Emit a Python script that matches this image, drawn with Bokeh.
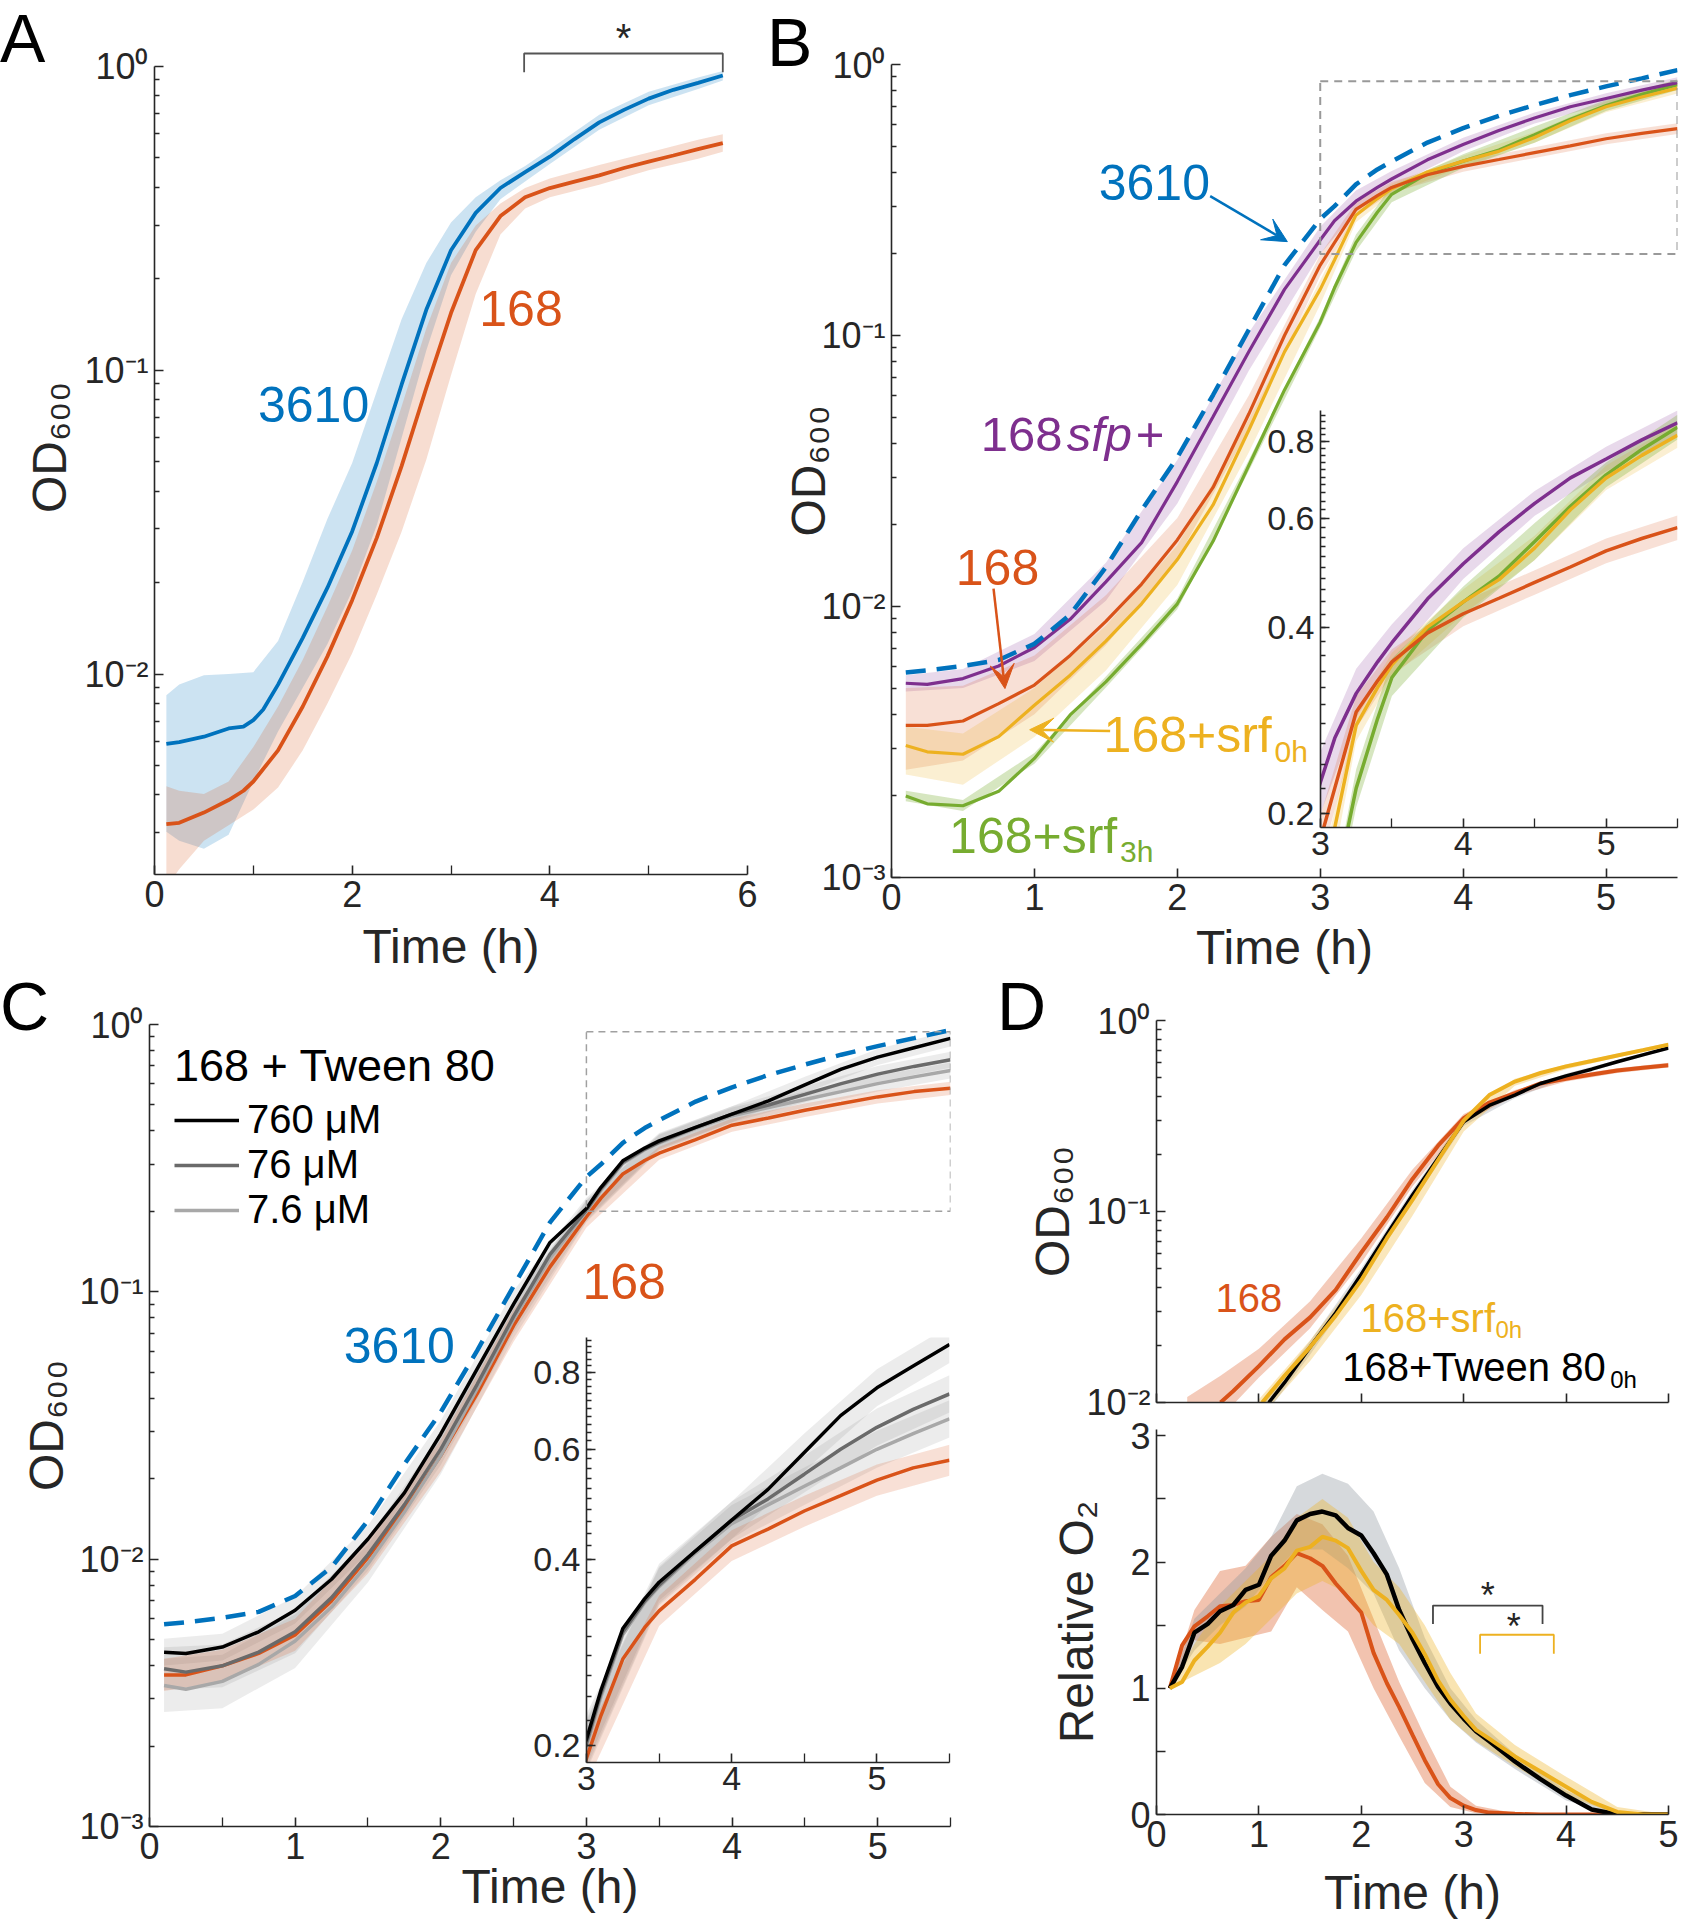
import numpy as np
from bokeh.plotting import figure
from bokeh.models import (GridBox, Div, Label, Arrow, VeeHead, FixedTicker,
                          CustomJSTickFormatter, Legend, LegendItem, Range1d)
from bokeh.embed import file_html
from bokeh.resources import INLINE

FONT = "Liberation Sans"
BLUE = "#0072BD"; RED = "#D95319"; YEL = "#EDB120"; PUR = "#7E2F8E"; GRN = "#77AC30"
DGRY = "#6a6a6a"; LGRY = "#a8a8a8"; AXC = "#262626"

# ---------------- data: panel A ----------------
tA = [0.12, 0.25, 0.5, 0.75, 0.9, 1.0, 1.1, 1.25, 1.5, 1.75, 2.0, 2.25, 2.5, 2.75, 3.0,
      3.25, 3.5, 3.75, 4.0, 4.25, 4.5, 4.75, 5.0, 5.25, 5.5, 5.75]
a_3610 = [0.00589, 0.00597, 0.00622, 0.00662, 0.00671, 0.00705, 0.00764, 0.00923, 0.01315,
          0.01923, 0.02944, 0.04955, 0.0895, 0.1578, 0.2477, 0.3289, 0.3972, 0.4477, 0.5035,
          0.5754, 0.6531, 0.7178, 0.7816, 0.8356, 0.8810, 0.9311]
a_168 = [0.00321, 0.00324, 0.00350, 0.00385, 0.00413, 0.00443, 0.00487, 0.00561, 0.00782,
         0.01143, 0.0175, 0.0281, 0.0483, 0.0873, 0.154, 0.248, 0.321, 0.370, 0.397, 0.417,
         0.437, 0.462, 0.485, 0.508, 0.533, 0.558]
tAb = [0.12, 0.25, 0.5, 0.75, 1.0, 1.25, 1.5, 1.75, 2.0, 2.25, 2.5, 2.75, 3.0, 3.25, 3.5,
       3.75, 4.0, 4.5, 5.0, 5.5, 5.75]
a_3610_hi = [0.00851, 0.00923, 0.00991, 0.0100, 0.01014, 0.01285, 0.0201, 0.0324, 0.0495, 0.0853,
             0.147, 0.225, 0.306, 0.370, 0.421, 0.469, 0.533, 0.692, 0.824, 0.918, 0.964]
a_3610_lo = [0.00303, 0.00283, 0.00266, 0.00296, 0.00443, 0.00647, 0.00901, 0.01256, 0.01876, 0.0309,
             0.0598, 0.116, 0.205, 0.285, 0.365, 0.417, 0.476, 0.617, 0.743, 0.840, 0.897]
a_168_hi = [0.00427, 0.00413, 0.00403, 0.00443, 0.00575, 0.00782, 0.01115, 0.01667, 0.0255, 0.0430,
            0.0759, 0.137, 0.225, 0.299, 0.353, 0.397, 0.427, 0.473, 0.520, 0.572, 0.597]
a_168_lo = [0.00198, 0.00228, 0.00283, 0.00318, 0.00358, 0.00423, 0.00561, 0.0080, 0.0117, 0.0183,
            0.0294, 0.0507, 0.0961, 0.178, 0.279, 0.340, 0.370, 0.407, 0.454, 0.496, 0.523]
sig_a = [3.74, 5.75]

# ---------------- data: panel B ----------------
tB = [0.1, 0.25, 0.5, 0.75, 1.0, 1.25, 1.5, 1.75, 2.0, 2.25, 2.5, 2.75, 3.0, 3.1, 3.25, 3.4,
      3.5, 3.75, 4.0, 4.25, 4.5, 4.75, 5.0, 5.25, 5.5]
od_3610 = [0.00571, 0.00581, 0.00603, 0.00635, 0.00728, 0.00933, 0.01396, 0.02265, 0.0355, 0.0603,
           0.105, 0.182, 0.269, 0.300, 0.361, 0.410, 0.439, 0.515, 0.582, 0.647, 0.708, 0.771,
           0.830, 0.889, 0.953]
b_sfp = [0.00521, 0.00516, 0.00542, 0.00603, 0.00706, 0.00897, 0.01233, 0.0172, 0.0289, 0.0501,
         0.0871, 0.148, 0.225, 0.265, 0.313, 0.352, 0.378, 0.445, 0.507, 0.571, 0.635, 0.698,
         0.749, 0.804, 0.857]
b_168 = [0.00364, 0.00364, 0.00378, 0.00438, 0.00513, 0.0066, 0.00881, 0.0121, 0.0176, 0.0275,
         0.0513, 0.100, 0.182, 0.220, 0.292, 0.328, 0.352, 0.392, 0.421, 0.446, 0.473, 0.501,
         0.532, 0.557, 0.580]
b_srf0 = [0.00307, 0.00291, 0.00285, 0.00331, 0.00432, 0.00558, 0.00745, 0.01023, 0.0149, 0.0237,
          0.0447, 0.087, 0.148, 0.190, 0.278, 0.320, 0.348, 0.401, 0.440, 0.478, 0.538, 0.620,
          0.698, 0.759, 0.818]
b_srf3 = [0.00200, 0.00187, 0.00184, 0.00208, 0.00275, 0.00398, 0.00527, 0.00726, 0.01023, 0.0174,
          0.0331, 0.063, 0.112, 0.150, 0.220, 0.285, 0.332, 0.396, 0.440, 0.484, 0.551, 0.628,
          0.706, 0.776, 0.843]
tBb = [0.1, 0.5, 1.0, 1.5, 2.0, 2.5, 3.0, 3.25, 3.5, 4.0, 4.5, 5.0, 5.5]
b_sfp_hi = [0.00558, 0.00588, 0.00792, 0.01449, 0.0347, 0.1023, 0.252, 0.343, 0.405, 0.537, 0.665, 0.784, 0.897]
b_sfp_lo = [0.00486, 0.00500, 0.00629, 0.01049, 0.0240, 0.0741, 0.200, 0.286, 0.353, 0.479, 0.606, 0.715, 0.818]
b_168_hi = [0.0050, 0.0051, 0.0066, 0.0110, 0.0212, 0.0600, 0.199, 0.310, 0.369, 0.441, 0.495, 0.557, 0.607]
b_168_lo = [0.0025, 0.0027, 0.0040, 0.0072, 0.0150, 0.0450, 0.166, 0.275, 0.336, 0.402, 0.452, 0.508, 0.554]
b_srf0_hi = [0.0036, 0.0034, 0.0050, 0.0085, 0.0168, 0.0490, 0.160, 0.290, 0.364, 0.461, 0.563, 0.731, 0.856]
b_srf0_lo = [0.0024, 0.0022, 0.0033, 0.0058, 0.0120, 0.0370, 0.130, 0.262, 0.332, 0.420, 0.514, 0.667, 0.781]
b_srf3_hi = [0.00209, 0.00193, 0.00288, 0.00552, 0.0107, 0.0347, 0.117, 0.236, 0.356, 0.466, 0.590, 0.739, 0.883]
b_srf3_lo = [0.00191, 0.00176, 0.00263, 0.00503, 0.00977, 0.0316, 0.107, 0.205, 0.310, 0.415, 0.514, 0.674, 0.805]
box_b = [3.0, 5.5, 0.2, 0.867]

# ---------------- data: panel C ----------------
tC = [0.1, 0.25, 0.5, 0.75, 1.0, 1.25, 1.5, 1.75, 2.0, 2.25, 2.5, 2.75, 3.0, 3.1, 3.25, 3.4,
      3.5, 3.75, 4.0, 4.25, 4.5, 4.75, 5.0, 5.25, 5.5]
c_760 = [0.00449, 0.00444, 0.00469, 0.00535, 0.00644, 0.00841, 0.0119, 0.0177, 0.0294, 0.0515,
         0.090, 0.153, 0.205, 0.246, 0.309, 0.345, 0.367, 0.412, 0.462, 0.518, 0.594, 0.681,
         0.755, 0.819, 0.887]
c_76 = [0.00389, 0.00378, 0.00399, 0.00449, 0.00535, 0.00718, 0.0104, 0.0160, 0.0258, 0.0451,
        0.0809, 0.138, 0.202, 0.243, 0.305, 0.342, 0.363, 0.412, 0.462, 0.500, 0.548, 0.601,
        0.652, 0.697, 0.738]
c_7_6 = [0.00337, 0.00326, 0.00349, 0.00404, 0.00494, 0.00662, 0.00962, 0.0150, 0.0244, 0.0434,
         0.0788, 0.134, 0.200, 0.240, 0.302, 0.340, 0.361, 0.409, 0.456, 0.489, 0.524, 0.561,
         0.601, 0.637, 0.673]
c_168 = [0.00369, 0.00369, 0.00399, 0.00444, 0.00521, 0.00698, 0.01014, 0.0153, 0.0244, 0.0416,
         0.0747, 0.124, 0.191, 0.224, 0.276, 0.310, 0.330, 0.371, 0.420, 0.447, 0.478, 0.506,
         0.536, 0.561, 0.577]
tCb = [0.1, 0.5, 1.0, 1.5, 2.0, 2.5, 3.0, 3.5, 4.0, 4.5, 5.0, 5.5]
c_760_hi = [0.00504, 0.00526, 0.00723, 0.01335, 0.0330, 0.101, 0.225, 0.393, 0.495, 0.637, 0.809, 0.950]
c_760_lo = [0.00400, 0.00418, 0.00574, 0.0106, 0.0262, 0.0802, 0.187, 0.343, 0.431, 0.554, 0.705, 0.828]
c_76_hi = [0.00468, 0.00480, 0.00643, 0.0119, 0.0296, 0.0929, 0.221, 0.389, 0.495, 0.587, 0.699, 0.791]
c_76_lo = [0.00324, 0.00332, 0.00445, 0.00906, 0.0225, 0.0705, 0.184, 0.339, 0.431, 0.512, 0.609, 0.689]
c_7_6_hi = [0.00424, 0.00439, 0.00622, 0.0113, 0.0287, 0.0926, 0.219, 0.387, 0.489, 0.562, 0.644, 0.721]
c_7_6_lo = [0.00268, 0.00277, 0.00392, 0.00819, 0.0208, 0.0671, 0.182, 0.337, 0.425, 0.489, 0.561, 0.628]
c_168_hi = [0.00424, 0.00458, 0.00598, 0.01164, 0.0280, 0.0858, 0.209, 0.349, 0.445, 0.506, 0.568, 0.611]
c_168_lo = [0.00321, 0.00348, 0.00454, 0.00883, 0.0213, 0.0651, 0.174, 0.312, 0.397, 0.451, 0.506, 0.545]
box_c = [3.0, 5.5, 0.2, 0.94]

# ---------------- data: panel D ----------------
tD_168 = [0.625, 0.75, 1.0, 1.25, 1.5, 1.75, 2.0, 2.25, 2.5, 2.75, 3.0, 3.25, 3.5, 3.75, 4.0,
          4.25, 4.5, 4.75, 5.0]
d_168 = [0.0100, 0.01148, 0.0155, 0.0214, 0.0279, 0.0389, 0.0610, 0.0933, 0.148, 0.221, 0.308,
         0.372, 0.417, 0.468, 0.495, 0.521, 0.547, 0.566, 0.583]
tD_srf = [1.032, 1.25, 1.5, 1.75, 2.0, 2.25, 2.5, 2.75, 3.0, 3.25, 3.5, 3.75, 4.0, 4.25, 4.5, 4.75, 5.0]
d_srf0 = [0.0100, 0.0138, 0.0195, 0.0285, 0.0437, 0.0725, 0.115, 0.186, 0.299, 0.407, 0.479,
          0.531, 0.575, 0.614, 0.656, 0.700, 0.748]
tD_tw = [1.097, 1.25, 1.5, 1.75, 2.0, 2.25, 2.5, 2.75, 3.0, 3.25, 3.5, 3.75, 4.0, 4.25, 4.5, 4.75, 5.0]
d_tween = [0.0100, 0.0127, 0.0195, 0.0295, 0.0470, 0.0760, 0.122, 0.190, 0.295, 0.359, 0.407,
           0.468, 0.513, 0.556, 0.608, 0.661, 0.718]
tD_168b = [0.3, 0.625, 1.0, 1.5, 2.0, 2.5, 3.0, 3.5, 4.0, 4.5, 5.0]
d_168_hi = [0.0107, 0.0138, 0.0191, 0.0339, 0.0724, 0.166, 0.324, 0.432, 0.513, 0.562, 0.600]
d_168_lo = [0.0050, 0.0083, 0.0135, 0.0245, 0.0537, 0.135, 0.292, 0.403, 0.479, 0.531, 0.568]
tDb = [1.0, 1.5, 2.0, 2.5, 3.0, 3.5, 4.0, 4.5, 5.0]
d_srf0_hi = [0.0104, 0.0212, 0.0475, 0.125, 0.318, 0.495, 0.590, 0.670, 0.765]
d_srf0_lo = [0.0082, 0.0165, 0.0365, 0.095, 0.262, 0.455, 0.556, 0.640, 0.730]
d_tween_hi = [0.0095, 0.0210, 0.0505, 0.130, 0.310, 0.422, 0.528, 0.622, 0.732]
d_tween_lo = [0.0078, 0.0178, 0.0432, 0.112, 0.280, 0.392, 0.498, 0.594, 0.704]

tO = [0.13, 0.25, 0.37, 0.5, 0.62, 0.75, 0.87, 1.0, 1.12, 1.25, 1.37, 1.5, 1.62, 1.75, 1.87, 2.0,
      2.12, 2.25, 2.37, 2.5, 2.62, 2.75, 2.87, 3.0, 3.12, 3.25, 3.5, 3.75, 4.0, 4.25, 4.5, 4.75, 5.0]
o2_168 = [1.0, 1.34, 1.49, 1.57, 1.65, 1.66, 1.69, 1.70, 1.88, 1.97, 2.07, 2.03, 1.97, 1.83, 1.72,
          1.60, 1.28, 1.04, 0.85, 0.63, 0.43, 0.24, 0.13, 0.07, 0.035, 0.015, 0.005, 0.0, 0.0,
          0.0, 0.0, 0.0, 0.0]
o2_tween = [1.0, 1.17, 1.44, 1.51, 1.61, 1.66, 1.78, 1.82, 2.05, 2.17, 2.33, 2.38, 2.40, 2.37, 2.27,
            2.21, 2.07, 1.90, 1.62, 1.39, 1.20, 1.01, 0.88, 0.76, 0.66, 0.58, 0.42, 0.28, 0.15,
            0.04, 0.0, 0.0, 0.0]
o2_srf0 = [1.0, 1.05, 1.22, 1.33, 1.44, 1.60, 1.68, 1.73, 1.87, 1.95, 2.09, 2.12, 2.20, 2.17, 2.11,
           1.93, 1.78, 1.70, 1.58, 1.44, 1.27, 1.06, 0.91, 0.78, 0.67, 0.60, 0.46, 0.34, 0.22,
           0.10, 0.02, 0.0, 0.0]
tOb = [0.13, 0.37, 0.62, 0.87, 1.12, 1.37, 1.62, 1.87, 2.12, 2.37, 2.62, 2.87, 3.12, 3.5, 4.0, 4.5, 5.0]
o2_168_hi = [1.0, 1.62, 1.93, 1.97, 2.20, 2.38, 2.30, 2.05, 1.55, 1.05, 0.62, 0.22, 0.07, 0.01, 0.0, 0.0, 0.0]
o2_168_lo = [1.0, 1.38, 1.35, 1.40, 1.45, 1.80, 1.62, 1.45, 1.00, 0.62, 0.25, 0.06, 0.01, 0.0, 0.0, 0.0, 0.0]
o2_tween_hi = [1.0, 1.55, 1.75, 1.95, 2.20, 2.60, 2.70, 2.62, 2.40, 1.95, 1.40, 1.00, 0.75, 0.48, 0.19, 0.02, 0.0]
o2_tween_lo = [1.0, 1.30, 1.50, 1.65, 1.90, 2.10, 2.10, 1.95, 1.75, 1.30, 1.00, 0.75, 0.57, 0.36, 0.11, 0.0, 0.0]
o2_srf0_hi = [1.0, 1.35, 1.65, 1.85, 2.05, 2.35, 2.50, 2.35, 2.00, 1.80, 1.50, 1.12, 0.80, 0.55, 0.30, 0.06, 0.0]
o2_srf0_lo = [1.0, 1.10, 1.20, 1.35, 1.55, 1.75, 1.85, 1.75, 1.50, 1.35, 1.05, 0.75, 0.58, 0.38, 0.15, 0.0, 0.0]
sig_d_tween = [2.70, 3.77]
sig_d_srf = [3.16, 3.88]

# ---------------- helpers ----------------
# every figure gets the same border sizes so that the grid's frame alignment is a no-op
BL, BT, BR, BB = 149, 20, 12, 104
children = []
LOG_MAJ = [0.001, 0.01, 0.1, 1.0]
LOG_MIN = [m * 10.0 ** e for e in (-3, -2, -1) for m in range(2, 10)]
SUP = "{'-':'\u207b','0':'\u2070','1':'\u00b9','2':'\u00b2','3':'\u00b3'}"
TEXT_LIFT = 16


def log_fmt():
    return CustomJSTickFormatter(code="const e = Math.round(Math.log10(tick)); const s = " + SUP +
                                 "; return '10' + String(e).split('').map(c => s[c]).join('');")


def panel(fl, ft, fw, fh, xr, yr, ylog, white=False):
    p = figure(frame_width=fw, frame_height=fh, x_range=Range1d(*xr), y_range=Range1d(*yr),
               y_axis_type="log" if ylog else "linear", title=None,
               min_border_left=BL, min_border_top=BT, min_border_right=BR, min_border_bottom=BB,
               output_backend="svg", toolbar_location=None,
               margin=(ft - BT, 0, 0, fl - BL))
    p.outline_line_color = None
    p.grid.visible = False
    p.border_fill_alpha = 0
    p.background_fill_color = "white"
    p.background_fill_alpha = 1.0 if white else 0.0
    for ax in p.axis:
        ax.axis_line_color = AXC
        ax.axis_line_width = 1.6
        ax.major_tick_line_color = AXC
        ax.minor_tick_line_color = AXC
        ax.major_tick_line_width = 1.6
        ax.minor_tick_line_width = 1.3
        ax.major_tick_in = 9
        ax.major_tick_out = 0
        ax.minor_tick_in = 5
        ax.minor_tick_out = 0
        ax.major_label_text_font = FONT
        ax.major_label_text_font_size = "36px"
        ax.major_label_text_color = AXC
        ax.major_label_standoff = 6
        ax.axis_label_text_font = FONT
        ax.axis_label_text_font_size = "48px"
        ax.axis_label_text_font_style = "normal"
        ax.axis_label_text_color = AXC
        ax.axis_label_standoff = -2
    children.append((p, 0, 0))
    return p


def lab(p, x, y, text, color, size, style="normal", xo=0, yo=0, align="left", base="alphabetic"):
    if base == "alphabetic":
        yo += TEXT_LIFT
    p.add_layout(Label(x=x, y=y, text=text, text_color=color, text_font=FONT,
                       text_font_size=f"{size}px", text_font_style=style, x_offset=xo,
                       y_offset=yo, text_align=align, text_baseline=base))


def band(p, t, lo, hi, color, alpha):
    p.varea(x=t, y1=lo, y2=hi, fill_color=color, fill_alpha=alpha)


def arrow(p, xs, ys, xe, ye, color):
    p.add_layout(Arrow(end=VeeHead(size=24, fill_color=color, line_color=color),
                       x_start=xs, y_start=ys, x_end=xe, y_end=ye,
                       line_color=color, line_width=2.5))


def bracket(p, t, ytop, yend, color):
    p.line([t[0], t[0], t[1], t[1]], [yend, ytop, ytop, yend], line_color=color, line_width=1.8)


# ================= Panel A =================
pA = panel(154, 20, 593, 854, (0, 6), (0.00219, 1.4125), True)
pA.xaxis.ticker = FixedTicker(ticks=[0, 2, 4, 6], minor_ticks=[1, 3, 5])
pA.xaxis.minor_tick_in = 9
pA.yaxis.ticker = FixedTicker(ticks=LOG_MAJ, minor_ticks=LOG_MIN)
pA.yaxis.formatter = log_fmt()
pA.yaxis.bounds = (0.00219, 1.0)
pA.xaxis.axis_label = "Time (h)"
pA.xaxis.axis_label_standoff = 10
pA.yaxis.axis_label = "OD\u2086\u2080\u2080"
pA.yaxis.axis_label_standoff = 5
band(pA, tAb, a_3610_lo, a_3610_hi, BLUE, 0.2)
band(pA, tAb, a_168_lo, a_168_hi, RED, 0.2)
pA.line(tA, a_3610, line_color=BLUE, line_width=3.8)
pA.line(tA, a_168, line_color=RED, line_width=3.8)
bracket(pA, sig_a, 1.10, 0.954, "#555555")
lab(pA, sum(sig_a) / 2, 1.237, "*", AXC, 40, align="center", base="middle")
lab(pA, 1.047, 0.0683, "3610", BLUE, 50)
lab(pA, 3.286, 0.1415, "168", RED, 50)

# ================= Panel B =================
pB = panel(891, 64, 786, 813, (0, 5.5), (0.001, 1.0), True)
pB.xaxis.ticker = FixedTicker(ticks=[0, 1, 2, 3, 4, 5], minor_ticks=[])
pB.yaxis.ticker = FixedTicker(ticks=LOG_MAJ, minor_ticks=LOG_MIN)
pB.yaxis.formatter = log_fmt()
pB.xaxis.axis_label = "Time (h)"
pB.xaxis.axis_label_standoff = 8
pB.yaxis.axis_label = "OD\u2086\u2080\u2080"
pB.yaxis.axis_label_standoff = -17
band(pB, tBb, b_sfp_lo, b_sfp_hi, PUR, 0.18)
band(pB, tBb, b_168_lo, b_168_hi, RED, 0.18)
band(pB, tBb, b_srf0_lo, b_srf0_hi, YEL, 0.2)
band(pB, tBb, b_srf3_lo, b_srf3_hi, GRN, 0.3)
pB.line(tB, b_srf3, line_color=GRN, line_width=3.2)
pB.line(tB, b_srf0, line_color=YEL, line_width=3.2)
pB.line(tB, b_168, line_color=RED, line_width=3.2)
pB.line(tB, b_sfp, line_color=PUR, line_width=3.2)
pB.line(tB, od_3610, line_color=BLUE, line_width=4.5, line_dash="20 11")
pB.quad(left=box_b[0], right=box_b[1], bottom=box_b[2], top=box_b[3], fill_color=None,
        line_color="#999999", line_width=2, line_dash="8 6")
lab(pB, 1.45, 0.3206, "3610", BLUE, 50)
arrow(pB, 2.23, 0.327, 2.77, 0.222, BLUE)
lab(pB, 0.624, 0.0377, "168", PUR, 49)
lab(pB, 0.624, 0.0377, "sfp", PUR, 49, style="italic", xo=86)
lab(pB, 0.624, 0.0377, "+", PUR, 49, xo=155)
lab(pB, 0.45, 0.01214, "168", RED, 50)
arrow(pB, 0.714, 0.01164, 0.794, 0.00498, RED)
lab(pB, 1.484, 0.00294, "168+srf", YEL, 50)
lab(pB, 1.484, 0.00294, "0h", YEL, 30, xo=171, yo=-17)
arrow(pB, 1.53, 0.00347, 0.967, 0.00351, YEL)
lab(pB, 0.403, 0.00124, "168+srf", GRN, 50)
lab(pB, 0.403, 0.00124, "3h", GRN, 30, xo=171, yo=-15)

# inset B
iB = panel(1320, 410, 357, 417, (3, 5.5), (0.19, 0.897), True, white=True)
iB.xaxis.ticker = FixedTicker(ticks=[3, 4, 5], minor_ticks=[3.5, 4.5, 5.5])
iB.xaxis.minor_tick_in = 9
iB.yaxis.ticker = FixedTicker(ticks=[0.2, 0.4, 0.6, 0.8],
                              minor_ticks=[round(0.2 + 0.02 * i, 2) for i in range(36)])
iB.yaxis.formatter = CustomJSTickFormatter(code="return tick.toFixed(1);")
iB.xaxis.major_label_text_font_size = "34px"
iB.yaxis.major_label_text_font_size = "34px"
iB.xaxis.major_label_standoff = 4
band(iB, tBb, b_sfp_lo, b_sfp_hi, PUR, 0.18)
band(iB, tBb, b_168_lo, b_168_hi, RED, 0.18)
band(iB, tBb, b_srf0_lo, b_srf0_hi, YEL, 0.2)
band(iB, tBb, b_srf3_lo, b_srf3_hi, GRN, 0.3)
iB.line(tB, b_srf3, line_color=GRN, line_width=3.5)
iB.line(tB, b_srf0, line_color=YEL, line_width=3.5)
iB.line(tB, b_168, line_color=RED, line_width=3.5)
iB.line(tB, b_sfp, line_color=PUR, line_width=3.5)

# ================= Panel C =================
pC = panel(149, 1024, 801, 802, (0, 5.5), (0.001, 1.0), True)
pC.xaxis.ticker = FixedTicker(ticks=[0, 1, 2, 3, 4, 5], minor_ticks=[0.5, 1.5, 2.5, 3.5, 4.5, 5.5])
pC.xaxis.minor_tick_in = 9
pC.yaxis.ticker = FixedTicker(ticks=LOG_MAJ, minor_ticks=LOG_MIN)
pC.yaxis.formatter = log_fmt()
pC.xaxis.axis_label = "Time (h)"
pC.yaxis.axis_label = "OD\u2086\u2080\u2080"
pC.yaxis.axis_label_standoff = 3
band(pC, tCb, c_7_6_lo, c_7_6_hi, "#808080", 0.15)
band(pC, tCb, c_76_lo, c_76_hi, "#808080", 0.15)
band(pC, tCb, c_760_lo, c_760_hi, "#808080", 0.15)
band(pC, tCb, c_168_lo, c_168_hi, RED, 0.18)
pC.line(tC, c_168, line_color=RED, line_width=3.5)
r76b = pC.line(tC, c_7_6, line_color=LGRY, line_width=3.5)
r76 = pC.line(tC, c_76, line_color=DGRY, line_width=3.5)
r760 = pC.line(tC, c_760, line_color="black", line_width=3.5)
pC.line(tB, od_3610, line_color=BLUE, line_width=4.5, line_dash="20 11")
pC.quad(left=box_c[0], right=box_c[1], bottom=box_c[2], top=box_c[3], fill_color=None,
        line_color="#a0a0a0", line_width=1.5, line_dash="7 5")
lab(pC, 1.333, 0.0549, "3610", BLUE, 50)
lab(pC, 2.973, 0.0951, "168", RED, 50)
leg = Legend(items=[LegendItem(label="760 \u03bcM", renderers=[r760]),
                    LegendItem(label="76 \u03bcM", renderers=[r76]),
                    LegendItem(label="7.6 \u03bcM", renderers=[r76b])],
             title="168 + Tween 80", location=(25, 594))
leg.title_text_font = FONT
leg.title_text_font_size = "45px"
leg.title_text_font_style = "normal"
leg.title_text_color = "black"
leg.title_standoff = 5
leg.label_text_font = FONT
leg.label_text_font_size = "40px"
leg.label_text_color = "black"
leg.glyph_width = 65
leg.glyph_height = 40
leg.label_height = 40
leg.label_standoff = 8
leg.spacing = 0
leg.padding = 10
leg.margin = 0
leg.border_line_color = None
leg.background_fill_alpha = 0
pC.add_layout(leg)

# inset C
iC = panel(586, 1337, 363, 425, (3, 5.5), (0.188, 0.91), True, white=True)
iC.xaxis.ticker = FixedTicker(ticks=[3, 4, 5], minor_ticks=[3.5, 4.5, 5.5])
iC.xaxis.minor_tick_in = 9
iC.yaxis.ticker = FixedTicker(ticks=[0.2, 0.4, 0.6, 0.8],
                              minor_ticks=[round(0.2 + 0.02 * i, 2) for i in range(36)])
iC.yaxis.formatter = CustomJSTickFormatter(code="return tick.toFixed(1);")
iC.xaxis.major_label_text_font_size = "34px"
iC.yaxis.major_label_text_font_size = "34px"
iC.xaxis.major_label_standoff = 4
band(iC, tCb, c_7_6_lo, c_7_6_hi, "#808080", 0.15)
band(iC, tCb, c_76_lo, c_76_hi, "#808080", 0.15)
band(iC, tCb, c_760_lo, c_760_hi, "#808080", 0.15)
band(iC, tCb, c_168_lo, c_168_hi, RED, 0.18)
iC.line(tC, c_168, line_color=RED, line_width=3.5)
iC.line(tC, c_7_6, line_color=LGRY, line_width=3.5)
iC.line(tC, c_76, line_color=DGRY, line_width=3.5)
iC.line(tC, c_760, line_color="black", line_width=3.5)

# ================= Panel D (top) =================
pD = panel(1156, 1020, 512, 382, (0, 5), (0.01, 1.0), True)
pD.xaxis.ticker = FixedTicker(ticks=[0, 1, 2, 3, 4, 5], minor_ticks=[])
pD.xaxis.formatter = CustomJSTickFormatter(code="return '';")
pD.yaxis.ticker = FixedTicker(ticks=LOG_MAJ, minor_ticks=LOG_MIN)
pD.yaxis.formatter = log_fmt()
pD.yaxis.axis_label = "OD\u2086\u2080\u2080"
pD.yaxis.axis_label_standoff = 4
band(pD, tD_168b, d_168_lo, d_168_hi, RED, 0.3)
band(pD, tDb, d_tween_lo, d_tween_hi, "#8a939c", 0.3)
band(pD, tDb, d_srf0_lo, d_srf0_hi, YEL, 0.3)
pD.line(tD_168, d_168, line_color=RED, line_width=4)
pD.line(tD_tw, d_tween, line_color="black", line_width=3.5)
pD.line(tD_srf, d_srf0, line_color=YEL, line_width=4)
lab(pD, 0.576, 0.0289, "168", RED, 40)
lab(pD, 1.992, 0.02285, "168+srf", YEL, 40)
lab(pD, 1.992, 0.02285, "0h", YEL, 24, xo=135, yo=-12)
lab(pD, 1.813, 0.01265, "168+Tween 80", "black", 40)
lab(pD, 1.813, 0.01265, "0h", "black", 24, xo=268, yo=-12)

# ================= Panel D (bottom) =================
pO = panel(1156, 1429, 512, 385, (0, 5), (0, 3.05), False)
pO.xaxis.ticker = FixedTicker(ticks=[0, 1, 2, 3, 4, 5], minor_ticks=[])
pO.yaxis.ticker = FixedTicker(ticks=[0, 1, 2, 3], minor_ticks=[0.5, 1.5, 2.5])
pO.yaxis.minor_tick_in = 9
pO.xaxis.axis_label = "Time (h)"
pO.xaxis.axis_label_standoff = 16
pO.yaxis.axis_label = "Relative O\u2082"
pO.yaxis.axis_label_standoff = 24
band(pO, tOb, o2_168_lo, o2_168_hi, RED, 0.35)
band(pO, tOb, o2_tween_lo, o2_tween_hi, "#8a939c", 0.35)
band(pO, tOb, o2_srf0_lo, o2_srf0_hi, YEL, 0.35)
pO.line(tO, o2_168, line_color=RED, line_width=4)
pO.line(tO, o2_tween, line_color="black", line_width=4.5)
pO.line(tO, o2_srf0, line_color=YEL, line_width=4)
bracket(pO, sig_d_tween, 1.655, 1.51, "#444444")
bracket(pO, sig_d_srf, 1.424, 1.274, YEL)
lab(pO, sum(sig_d_tween) / 2, 1.734, "*", AXC, 36, align="center", base="middle")
lab(pO, 3.49, 1.49, "*", AXC, 36, align="center", base="middle")

# ================= panel letters =================
for letter, top, left in (("A", 4, 0), ("B", 8, 767), ("C", 972, 0), ("D", 972, 997)):
    children.append((Div(text=letter, width=70, height=72, margin=(top, 0, 0, left),
                         styles={"font-family": FONT, "font-size": "68px", "line-height": "1",
                                 "color": "black"}), 0, 0))

grid = GridBox(children=children, width=1689, height=1930, styles={"overflow": "hidden"})
open("out.html", "w").write(file_html(grid, INLINE))
